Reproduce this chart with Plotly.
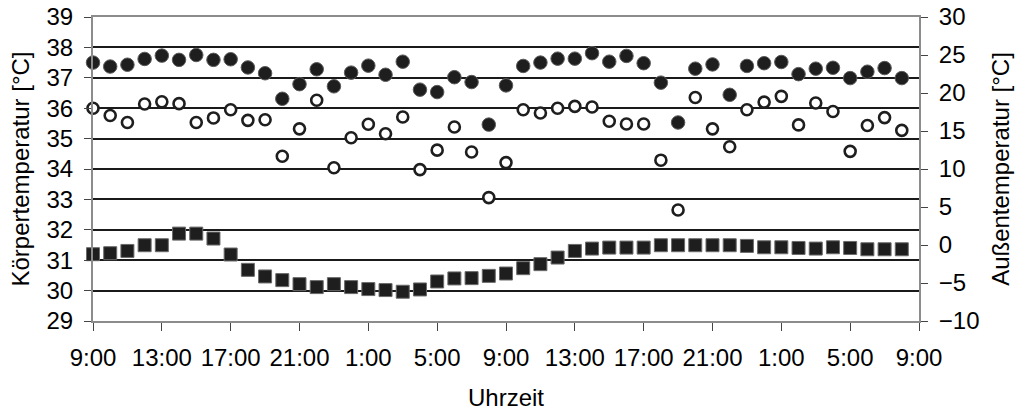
import plotly.graph_objects as go

# Hourly readings over two days, starting at 9:00
hours = list(range(48))

# Körpertemperatur, two measurement series [°C]
koerper_gefuellt = [37.50, 37.37, 37.43, 37.62, 37.73, 37.59, 37.75, 37.59, 37.61, 37.34,
                    37.15, 36.31, 36.79, 37.28, 36.72, 37.17, 37.40, 37.10, 37.53, 36.61,
                    36.53, 37.02, 36.86, 35.46, 36.75, 37.39, 37.50, 37.63, 37.63, 37.81,
                    37.53, 37.72, 37.48, 36.84, 35.53, 37.30, 37.44, 36.44, 37.39, 37.48,
                    37.52, 37.12, 37.30, 37.33, 36.99, 37.20, 37.32, 36.99]
koerper_offen = [36.00, 35.76, 35.53, 36.14, 36.21, 36.15, 35.53, 35.68, 35.95, 35.60,
                 35.62, 34.42, 35.32, 36.26, 34.04, 35.03, 35.47, 35.16, 35.71, 33.98,
                 34.62, 35.38, 34.56, 33.06, 34.21, 35.95, 35.84, 36.00, 36.06, 36.04,
                 35.57, 35.48, 35.48, 34.29, 32.65, 36.35, 35.32, 34.73, 35.95, 36.20,
                 36.39, 35.45, 36.17, 35.89, 34.58, 35.43, 35.69, 35.27]

# Außentemperatur [°C], right axis
aussen = [-1.21, -1.08, -0.78, -0.03, -0.03, 1.50, 1.50, 0.85, -1.25, -3.27,
          -4.14, -4.62, -5.15, -5.54, -5.15, -5.54, -5.80, -5.93, -6.15, -5.85,
          -4.80, -4.40, -4.36, -4.06, -3.75, -3.05, -2.52, -1.65, -0.78, -0.47,
          -0.34, -0.34, -0.34, -0.03, -0.03, -0.03, -0.03, -0.03, -0.12, -0.30,
          -0.30, -0.39, -0.47, -0.30, -0.39, -0.56, -0.56, -0.56]

tick_hours = list(range(0, 49, 4))
tick_labels = ["9:00", "13:00", "17:00", "21:00", "1:00", "5:00", "9:00",
               "13:00", "17:00", "21:00", "1:00", "5:00", "9:00"]

FONT = "Liberation Sans, Arial, sans-serif"
AXIS_GRAY = "#8c8c8c"

fig = go.Figure()

fig.add_trace(go.Scatter(
    x=hours, y=aussen, mode="markers", yaxis="y2", cliponaxis=False,
    marker=dict(symbol="square", size=13, color="#1e1e1e",
                line=dict(width=1, color="#6a6a6a")),
    showlegend=False))

fig.add_trace(go.Scatter(
    x=hours, y=koerper_offen, mode="markers", cliponaxis=False,
    marker=dict(symbol="circle", size=11, color="white",
                line=dict(width=2.6, color="#1e1e1e")),
    showlegend=False))

fig.add_trace(go.Scatter(
    x=hours, y=koerper_gefuellt, mode="markers", cliponaxis=False,
    marker=dict(symbol="circle", size=13.5, color="#1e1e1e",
                line=dict(width=1, color="#5a5a5a")),
    showlegend=False))

fig.update_layout(
    width=1021, height=411,
    margin=dict(l=93, r=102, t=17, b=90),
    paper_bgcolor="white", plot_bgcolor="white",
    font=dict(family=FONT, size=24, color="black"),
    xaxis=dict(
        range=[0, 48], tickmode="array", tickvals=tick_hours, ticktext=tick_labels,
        ticks="outside", ticklen=8, tickwidth=1, tickcolor="#444",
        ticklabelstandoff=6, automargin=False,
        showgrid=False, zeroline=False,
        showline=True, linecolor=AXIS_GRAY, linewidth=2, mirror=True,
        tickfont=dict(size=24),
        title=dict(text="Uhrzeit", font=dict(size=24), standoff=20),
    ),
    yaxis=dict(
        range=[29, 39], dtick=1, tick0=29,
        ticks="outside", ticklen=7, tickwidth=1, tickcolor="#444",
        ticklabelstandoff=6, automargin=False,
        showgrid=True, gridcolor="#1a1a1a", gridwidth=2, zeroline=False,
        showline=True, linecolor=AXIS_GRAY, linewidth=2, mirror=True,
        tickfont=dict(size=24),
        title=dict(text="Körpertemperatur [°C]", font=dict(size=24), standoff=10),
    ),
    yaxis2=dict(
        range=[-10, 30], dtick=5, tick0=-10, overlaying="y", side="right",
        ticks="outside", ticklen=7, tickwidth=1, tickcolor="#444",
        ticklabelstandoff=6, automargin=False,
        showgrid=False, zeroline=False,
        showline=True, linecolor=AXIS_GRAY, linewidth=2,
        tickfont=dict(size=24),
        title=dict(text="Außentemperatur [°C]", font=dict(size=24), standoff=14),
    ),
)

fig.write_html("out.html")
